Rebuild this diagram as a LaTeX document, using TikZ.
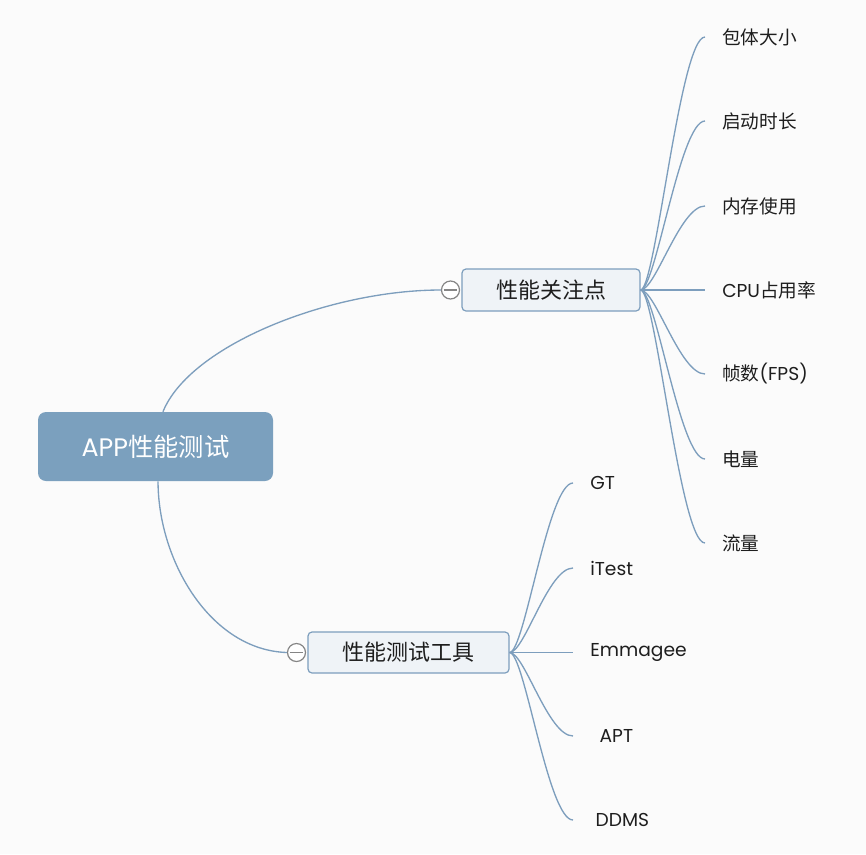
\documentclass[tikz,border=0pt]{standalone}
\usepackage{fontspec}
\setmainfont{Noto Sans CJK SC}
\newfontfamily\lat{Poppins}
\definecolor{bgc}{HTML}{FBFBFB}
\definecolor{linec}{HTML}{7D9EBD}
\definecolor{rootc}{HTML}{7BA0BE}
\definecolor{topicc}{HTML}{EFF3F7}
\definecolor{circc}{HTML}{858585}
\definecolor{txtc}{HTML}{1E1E1E}
\tikzset{
  rootbox/.style={draw=none, fill=rootc, rounded corners=6pt, minimum width=176.25pt, minimum height=51.75pt, text=white, font=\fontsize{19}{22}\selectfont, inner sep=0pt},
  topicbox/.style={draw=linec, line width=0.9pt, fill=topicc, rounded corners=3pt, text=txtc, font=\fontsize{16.5}{20}\selectfont, inner sep=0pt},
  leaf/.style={anchor=west, inner xsep=12.75pt, inner ysep=0pt, text=txtc, font=\fontsize{14}{17}\selectfont},
  collapse/.style={circle, draw=circc, line width=0.9pt, fill=white, minimum size=13.5pt, inner sep=0pt},
  conn/.style={draw=linec, line width=1pt},
}
\begin{document}
\begin{tikzpicture}[x=0.75pt,y=-0.75pt]
\fill[bgc] (0,0) rectangle (866,854);
\useasboundingbox (0,0) rectangle (866,854);

\node[rootbox] (root) at (155.5,446.5) {{\lat APP}性能测试};
\node[topicbox, minimum width=133.5pt, minimum height=31.5pt] (t1) at (551,290) {性能关注点};
\node[topicbox, minimum width=150.75pt, minimum height=30.75pt] (t2) at (408.5,652.5) {性能测试工具};
\node[collapse] (c1) at (450.5,290) {};
\node[collapse] (c2) at (296.5,652.5) {};
\draw[circc, line width=0.9pt] ([xshift=2pt]c1.west) -- ([xshift=-2pt]c1.east);
\draw[circc, line width=0.9pt] ([xshift=2pt]c2.west) -- ([xshift=-2pt]c2.east);

\draw[conn] ([xshift=5.6pt]root.north) .. controls (190,345) and (330,290) .. (c1.west);
\draw[conn] ([xshift=1.9pt]root.south) .. controls (158,560) and (210,650) .. (c2.west);

% leaves of topic 1
\node[leaf] (a1) at (705,37) {包体大小};
\node[leaf] (a2) at (705,121) {启动时长};
\node[leaf] (a3) at (705,206) {内存使用};
\node[leaf] (a4) at (705,290) {{\lat CPU}占用率};
\node[leaf] (a5) at (705,374) {帧数{\lat (FPS)}};
\node[leaf] (a6) at (705,459) {电量};
\node[leaf] (a7) at (705,543) {流量};
\foreach \n in {a1,a2,a3,a5,a6,a7}
  \draw[conn] (t1.east) .. controls +(15,0) and +(-25,0) .. (\n.west);
\draw[conn] (t1.east) -- (a4.west);

% leaves of topic 2
\node[leaf] (b1) at (573,483) {\lat GT};
\node[leaf] (b2) at (573,568) {\lat iTest};
\node[leaf] (b3) at (573,652.5) {\lat Emmagee};
\node[leaf] (b4) at (573,736) {\hspace{7pt}\lat APT};
\node[leaf] (b5) at (573,820) {\hspace{4pt}\lat DDMS};
\foreach \n in {b1,b2,b4,b5}
  \draw[conn] (t2.east) .. controls +(15,0) and +(-25,0) .. (\n.west);
\draw[conn] (t2.east) -- (b3.west);
\end{tikzpicture}
\end{document}
